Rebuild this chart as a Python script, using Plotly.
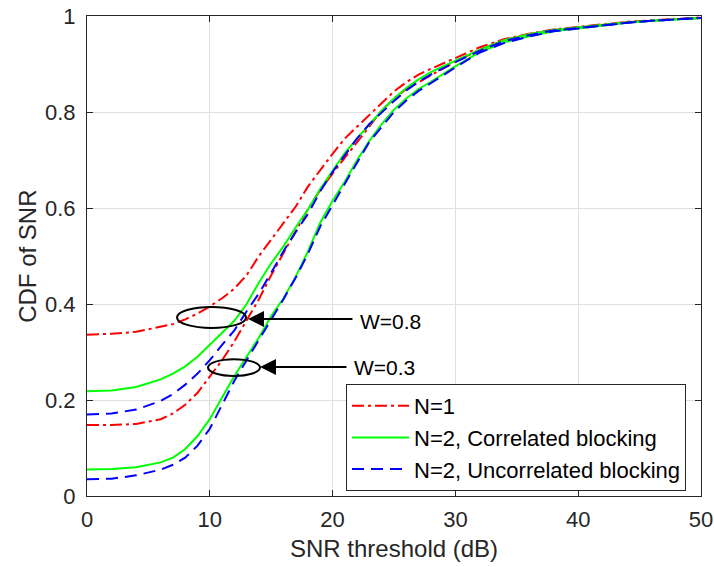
import plotly.graph_objects as go

# SNR threshold grid (dB)
snr_db = [0, 2, 4, 6, 7, 8, 9, 10, 11, 12, 13, 14, 15, 16, 17, 18, 19, 20, 21, 22, 23, 24,
          25, 26, 27, 28, 30, 32, 34, 36, 38, 40, 42, 44, 46, 48, 50]

# W = 0.8
n1_w08 = [0.336, 0.338, 0.342, 0.352, 0.358, 0.368, 0.380, 0.395, 0.412, 0.432, 0.460, 0.500,
          0.535, 0.570, 0.603, 0.645, 0.680, 0.713, 0.745, 0.770, 0.795, 0.820, 0.843, 0.862,
          0.878, 0.890, 0.912, 0.935, 0.952, 0.963, 0.972, 0.977, 0.983, 0.988, 0.991, 0.994, 0.997]
corr_w08 = [0.218, 0.220, 0.227, 0.243, 0.255, 0.270, 0.290, 0.315, 0.340, 0.365, 0.400, 0.445,
            0.485, 0.520, 0.560, 0.597, 0.640, 0.677, 0.715, 0.745, 0.775, 0.803, 0.828, 0.850,
            0.868, 0.883, 0.907, 0.930, 0.950, 0.962, 0.971, 0.976, 0.982, 0.987, 0.990, 0.993, 0.996]
uncorr_w08 = [0.170, 0.172, 0.180, 0.198, 0.212, 0.232, 0.255, 0.283, 0.315, 0.345, 0.385, 0.422,
              0.465, 0.510, 0.550, 0.588, 0.635, 0.675, 0.710, 0.745, 0.775, 0.800, 0.823, 0.845,
              0.863, 0.878, 0.904, 0.928, 0.948, 0.960, 0.970, 0.975, 0.981, 0.986, 0.990, 0.993, 0.996]

# W = 0.3
n1_w03 = [0.148, 0.148, 0.150, 0.160, 0.172, 0.190, 0.215, 0.250, 0.283, 0.322, 0.365, 0.410,
          0.460, 0.505, 0.553, 0.598, 0.638, 0.672, 0.705, 0.737, 0.770, 0.803, 0.828, 0.848,
          0.862, 0.876, 0.905, 0.930, 0.950, 0.962, 0.971, 0.976, 0.982, 0.987, 0.990, 0.993, 0.996]
corr_w03 = [0.055, 0.056, 0.060, 0.070, 0.080, 0.098, 0.125, 0.160, 0.205, 0.250, 0.290, 0.330,
            0.375, 0.412, 0.457, 0.510, 0.570, 0.615, 0.655, 0.700, 0.740, 0.775, 0.805, 0.828,
            0.848, 0.863, 0.895, 0.925, 0.945, 0.958, 0.968, 0.974, 0.981, 0.986, 0.990, 0.993, 0.996]
uncorr_w03 = [0.035, 0.036, 0.043, 0.055, 0.065, 0.080, 0.105, 0.140, 0.190, 0.240, 0.283, 0.325,
              0.370, 0.410, 0.455, 0.505, 0.562, 0.607, 0.650, 0.695, 0.738, 0.770, 0.800, 0.824,
              0.844, 0.860, 0.893, 0.924, 0.944, 0.957, 0.968, 0.974, 0.980, 0.986, 0.990, 0.993, 0.996]

series = [
    ("N=1", "#ff0000", "12px,4px,3px,4px", n1_w08, n1_w03),
    ("N=2, Correlated blocking", "#00ff00", "solid", corr_w08, corr_w03),
    ("N=2, Uncorrelated blocking", "#0000ff", "12px,7px", uncorr_w08, uncorr_w03),
]

FONT = "Liberation Sans, Arial, sans-serif"
INK = "#262626"

fig = go.Figure()
for name, color, dash, y08, y03 in series:
    for i, yy in enumerate([y08, y03]):
        fig.add_trace(go.Scatter(
            x=snr_db, y=yy, mode="lines", name=name, legendgroup=name,
            showlegend=(i == 0), line=dict(color=color, width=2, dash=dash)))

# ellipses marking the two W groups
fig.add_shape(type="circle", xref="x", yref="y", x0=7.33, x1=12.95, y0=0.350, y1=0.394,
              line=dict(color="black", width=2))
fig.add_shape(type="circle", xref="x", yref="y", x0=9.85, x1=14.09, y0=0.250, y1=0.285,
              line=dict(color="black", width=2))

# arrows + labels
for tip_x, tail_x, ay, label, lx, ly in [(13.11, 21.74, 0.369, "W=0.8", 22.1, 0.363),
                                          (14.09, 21.25, 0.269, "W=0.3", 21.6, 0.267)]:
    fig.add_annotation(x=tip_x, y=ay, ax=tail_x, ay=ay, xref="x", yref="y", axref="x", ayref="y",
                       text="", showarrow=True, arrowhead=2, arrowsize=1.6, arrowwidth=2,
                       arrowcolor="black")
    fig.add_annotation(x=lx, y=ly, xref="x", yref="y", text=label, showarrow=False,
                       xanchor="left", yanchor="middle", font=dict(size=21, color="black", family=FONT))

# axis titles
fig.add_annotation(x=0.5, y=-0.11, xref="paper", yref="paper", text="SNR threshold (dB)",
                   showarrow=False, xanchor="center", yanchor="middle",
                   font=dict(size=24, color=INK, family=FONT))
fig.add_annotation(x=-0.098, y=0.5, xref="paper", yref="paper", text="CDF of SNR", textangle=-90,
                   showarrow=False, xanchor="center", yanchor="middle",
                   font=dict(size=24, color=INK, family=FONT))

axis_common = dict(showgrid=True, gridcolor="#dfdfdf", gridwidth=1, showline=True, linecolor=INK,
                   linewidth=1, mirror="ticks", ticks="inside", ticklen=6, tickcolor=INK,
                   tickfont=dict(size=22, color=INK, family=FONT), zeroline=False,
                   automargin=False)

fig.update_xaxes(range=[0, 50], dtick=10, ticklabelstandoff=4, **axis_common)
fig.update_yaxes(range=[0, 1], dtick=0.2, ticklabelstandoff=6, **axis_common)

fig.update_layout(
    width=714, height=567,
    margin=dict(l=87, r=13, t=16, b=71),
    plot_bgcolor="white", paper_bgcolor="white",
    font=dict(family=FONT, color=INK),
    legend=dict(x=0.9756, y=0.2333, xanchor="right", yanchor="top", bgcolor="white",
                bordercolor=INK, borderwidth=1, itemwidth=57,
                font=dict(size=22, color="black", family=FONT), tracegroupgap=0),
)

# drop the default 8px body margin so the figure sits at the page origin
fig.write_html("out.html", config={"displayModeBar": False},
               post_script="document.body.style.margin='0px';")
